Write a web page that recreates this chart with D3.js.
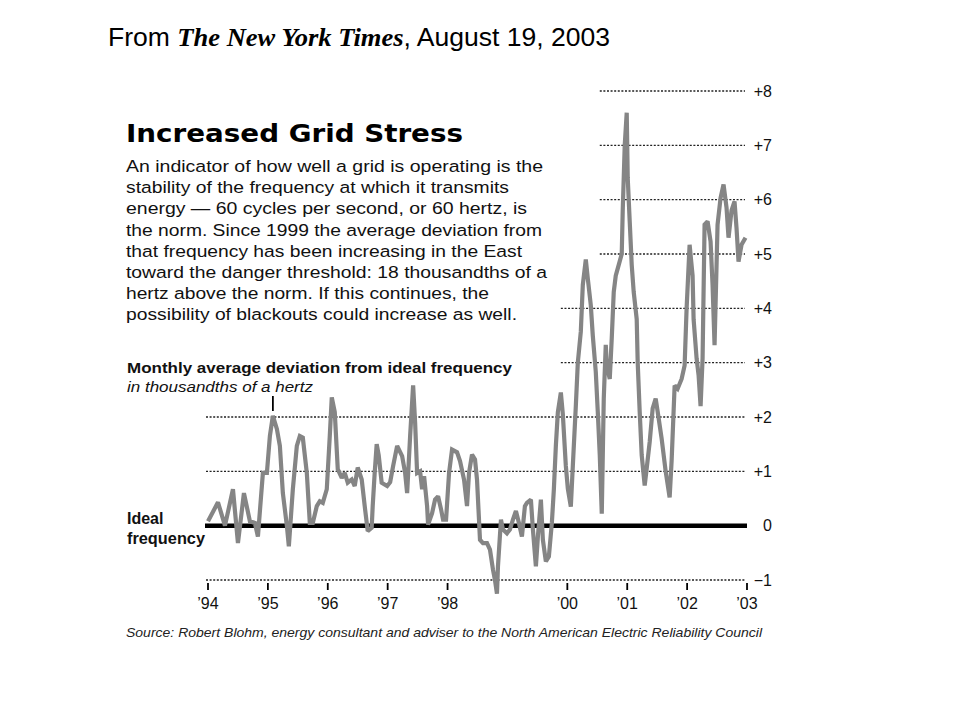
<!DOCTYPE html>
<html lang="en">
<head>
  <meta charset="UTF-8" />
  <title>Increased Grid Stress</title>
  <style>
    body { margin: 0; background: #fff; font-family: "Liberation Sans", Arial, sans-serif; }
  </style>
</head>
<body>
  <div id="chart"></div>

  <script src="https://d3js.org/d3.v7.min.js"></script>

  <script>
    // months since Jan 1994 at the line's turning points
    const monthIdx = [
      0, 2.0, 3.4, 5.0, 6.0, 7.2, 8.4, 9.4, 10.0, 11.0, 11.8,
      12.4, 13.0, 13.8, 14.4, 15.0, 15.8, 16.2, 17.0, 17.8, 18.4, 19.0, 19.8, 20.4, 21.0, 21.8, 22.4, 23.0, 23.8,
      24.4, 24.8, 25.4, 26.0, 26.8, 27.4, 28.0, 28.8, 29.4, 30.0, 30.8, 31.4, 32.0, 32.8, 33.0, 33.4, 33.8, 34.2, 34.8, 35.9,
      36.5, 37.1, 37.9, 38.9, 39.5, 39.9, 40.5, 41.1, 41.5, 41.9, 42.5, 42.9, 43.3, 43.9, 44.1, 44.9, 45.5, 46.1, 46.7, 47.1, 47.7,
      48.3, 48.9, 49.9, 50.5, 51.3, 51.9, 52.3, 52.9, 53.5, 53.9, 54.5, 55.1, 55.9, 56.5, 57.1, 57.5, 57.9, 58.1, 58.7, 59.1, 59.9,
      60.5, 61.1, 61.7, 62.3, 62.9, 63.5, 63.9, 64.7, 65.1, 65.7, 66.1, 66.7, 67.1, 67.7, 68.3, 68.9, 69.3, 69.7, 70.1, 70.7, 71.1, 71.7,
      72.1, 72.7, 73.1, 73.7, 74.1, 74.7, 75.1, 75.7, 76.1, 76.7, 77.1, 77.7, 78.1, 78.5, 78.9, 79.3, 79.7, 79.9, 80.5, 80.9,
      81.3, 81.7, 82.3, 82.9, 83.1, 83.5, 83.9,
      84.1, 84.5, 84.9, 85.3, 85.9, 86.1, 86.5, 86.9, 87.5, 87.9, 88.5, 89.1, 89.7, 90.1, 90.9, 91.7, 92.5, 92.9, 93.5, 94.1, 94.9, 95.5, 95.9,
      96.5, 97.1, 97.3, 97.9, 98.3, 98.7, 99.1, 99.5, 100.1, 100.7, 101.1, 101.5, 102.1, 102.7, 103.3, 103.9, 104.3, 104.9, 105.5, 105.9,
      106.3, 106.9, 107.7
    ];
    // deviation from 60 Hz, thousandths of a hertz
    const deviation = [
      0.08, 0.43, 0.0, 0.67, -0.32, 0.6, 0.08, 0.05, -0.2, 0.97, 0.97,
      1.65, 2.02, 1.78, 1.47, 0.6, 0.0, -0.38, 0.67, 1.47, 1.65, 1.62, 0.97, 0.05, 0.05, 0.36, 0.45, 0.42, 0.67,
      1.65, 2.36, 2.09, 1.04, 0.88, 0.97, 0.79, 0.85, 0.73, 1.07, 0.85, 0.36, -0.1, -0.04, 0.36, 0.97, 1.5, 1.3, 0.79, 0.73,
      0.8, 1.1, 1.47, 1.28, 0.97, 0.6, 1.65, 2.58, 1.9, 0.97, 1.0, 0.67, 0.91, 0.36, 0.02, 0.23, 0.48, 0.54, 0.3, 0.11, 0.11,
      0.97, 1.4, 1.35, 1.19, 0.85, 0.36, 0.97, 1.31, 1.22, 0.85, -0.26, -0.32, -0.32, -0.44, -0.81, -1.0, -1.25, -0.75, 0.11, -0.07, -0.14,
      -0.07, 0.11, 0.27, 0.05, -0.2, 0.36, 0.42, 0.48, -0.07, -0.75, -0.2, 0.48, -0.26, -0.66, -0.57, 0.05, 0.67, 1.47, 2.09, 2.45, 2.05, 1.1,
      0.68, 0.35, 1.1, 2.2, 3.0, 3.57, 4.43, 4.9, 4.55, 4.06, 3.5, 2.83, 2.1, 1.3, 0.22, 2.34, 3.33, 2.96, 2.7, 3.45,
      4.3, 4.6, 4.8, 5.0, 5.8, 7.0, 7.6,
      6.4, 5.6, 4.8, 4.3, 3.8, 3.0, 2.1, 1.3, 0.74, 1.05, 1.54, 2.16, 2.34, 2.1, 1.6, 1.0, 0.52, 1.2, 2.58, 2.52, 2.7, 2.95, 4.0,
      5.17, 4.6, 3.8, 3.08, 2.77, 2.2, 3.08, 5.54, 5.6, 5.23, 4.43, 3.32, 5.54, 6.03, 6.28, 5.85, 5.3, 5.8, 5.97, 5.48,
      4.86, 5.17, 5.3
    ];

    const yTicks = [-1, 0, 1, 2, 3, 4, 5, 6, 7, 8];
    const yTickLabels = ["\u22121", "0", "+1", "+2", "+3", "+4", "+5", "+6", "+7", "+8"];
    const yearTicks = [0, 12, 24, 36, 48, 72, 84, 96, 108];
    const yearLabels = ["\u201994", "\u201995", "\u201996", "\u201997", "\u201998", "\u201900", "\u201901", "\u201902", "\u201903"];

    const bodyLines = [
      "An indicator of how well a grid is operating is the",
      "stability of the frequency at which it transmits",
      "energy \u2014 60 cycles per second, or 60 hertz, is",
      "the norm. Since 1999 the average deviation from",
      "that frequency has been increasing in the East",
      "toward the danger threshold: 18 thousandths of a",
      "hertz above the norm. If this continues, the",
      "possibility of blackouts could increase as well."
    ];
    const bodyWidths = [417, 383, 401, 416, 396, 421, 363, 391];

    const svg = d3.select("#chart")
      .append("svg")
      .attr("width", 960)
      .attr("height", 720);

    const x = d3.scaleLinear().domain([0, 108]).range([208, 747]);
    const y = d3.scaleLinear().domain([-1, 8]).range([580, 91]);

    // header line
    const head = svg.append("text")
      .attr("x", 108)
      .attr("y", 46)
      .attr("font-size", "26px")
      .attr("fill", "#000")
      .attr("textLength", 502)
      .attr("lengthAdjust", "spacingAndGlyphs");
    head.append("tspan").text("From ");
    head.append("tspan")
      .attr("font-family", "'Liberation Serif', 'Times New Roman', serif")
      .attr("font-weight", "bold")
      .attr("font-style", "italic")
      .text("The New York Times");
    head.append("tspan").text(", August 19, 2003");

    svg.append("text")
      .attr("x", 126)
      .attr("y", 142)
      .attr("font-family", "'DejaVu Sans', sans-serif")
      .attr("font-weight", "bold")
      .attr("font-size", "25.5px")
      .attr("textLength", 337)
      .attr("lengthAdjust", "spacingAndGlyphs")
      .text("Increased Grid Stress");

    svg.append("g").selectAll("text")
      .data(bodyLines)
      .enter()
      .append("text")
      .attr("x", 126)
      .attr("y", (d, i) => 172 + i * 21.2)
      .attr("font-size", "17.4px")
      .attr("fill", "#111")
      .attr("textLength", (d, i) => bodyWidths[i])
      .attr("lengthAdjust", "spacingAndGlyphs")
      .text(d => d);

    svg.append("text")
      .attr("x", 127)
      .attr("y", 373)
      .attr("font-size", "15.5px")
      .attr("font-weight", "bold")
      .attr("fill", "#111")
      .attr("textLength", 385)
      .attr("lengthAdjust", "spacingAndGlyphs")
      .text("Monthly average deviation from ideal frequency");

    svg.append("text")
      .attr("x", 127)
      .attr("y", 392)
      .attr("font-size", "15.5px")
      .attr("font-style", "italic")
      .attr("fill", "#111")
      .attr("textLength", 186)
      .attr("lengthAdjust", "spacingAndGlyphs")
      .text("in thousandths of a hertz");

    // gridlines (the upper ones stop short of the text block)
    const grid = svg.append("g");
    grid.selectAll("line")
      .data(yTicks.filter(t => t !== 0))
      .enter()
      .append("line")
      .attr("x1", t => t >= 5 ? x(78.5) : t >= 3 ? x(70.7) : x(0) - 2)
      .attr("x2", x(108) - 2)
      .attr("y1", t => y(t))
      .attr("y2", t => y(t))
      .attr("stroke", "#222")
      .attr("stroke-width", 1.3)
      .attr("stroke-dasharray", "2 1.6");

    // ideal frequency line
    svg.append("line")
      .attr("x1", x(0) - 3)
      .attr("x2", x(108))
      .attr("y1", y(0))
      .attr("y2", y(0))
      .attr("stroke", "#000")
      .attr("stroke-width", 4.5);

    svg.append("text")
      .attr("x", 127)
      .attr("y", 524)
      .attr("font-size", "16px")
      .attr("font-weight", "bold")
      .attr("fill", "#111")
      .text("Ideal");
    svg.append("text")
      .attr("x", 127)
      .attr("y", 544)
      .attr("font-size", "16px")
      .attr("font-weight", "bold")
      .attr("fill", "#111")
      .attr("textLength", 78)
      .attr("lengthAdjust", "spacingAndGlyphs")
      .text("frequency");

    // year ticks
    const xAxis = svg.append("g");
    xAxis.selectAll("line")
      .data(yearTicks)
      .enter()
      .append("line")
      .attr("x1", d => x(d))
      .attr("x2", d => x(d))
      .attr("y1", 583)
      .attr("y2", 590)
      .attr("stroke", "#000")
      .attr("stroke-width", 1.8);
    xAxis.selectAll("text")
      .data(yearTicks)
      .enter()
      .append("text")
      .attr("x", d => x(d))
      .attr("y", 609)
      .attr("text-anchor", "middle")
      .attr("font-size", "16px")
      .attr("fill", "#111")
      .text((d, i) => yearLabels[i]);

    // right-hand value labels
    svg.append("g").selectAll("text")
      .data(yTicks)
      .enter()
      .append("text")
      .attr("x", 772)
      .attr("y", t => y(t) + 5.5)
      .attr("text-anchor", "end")
      .attr("font-size", "16px")
      .attr("fill", "#111")
      .text((t, i) => yTickLabels[i]);

    // small marker over the 1995 peak
    svg.append("line")
      .attr("x1", x(13))
      .attr("x2", x(13))
      .attr("y1", 396)
      .attr("y2", 411)
      .attr("stroke", "#000")
      .attr("stroke-width", 1.8);

    const series = monthIdx.map((m, i) => [m, deviation[i]]);
    svg.append("path")
      .datum(series)
      .attr("fill", "none")
      .attr("stroke", "#858585")
      .attr("stroke-width", 4.2)
      .attr("stroke-linejoin", "miter")
      .attr("stroke-miterlimit", 2)
      .attr("d", d3.line().x(d => x(d[0])).y(d => y(d[1])));

    svg.append("text")
      .attr("x", 126)
      .attr("y", 637)
      .attr("font-size", "12.8px")
      .attr("font-style", "italic")
      .attr("fill", "#222")
      .attr("textLength", 636)
      .attr("lengthAdjust", "spacingAndGlyphs")
      .text("Source: Robert Blohm, energy consultant and adviser to the North American Electric Reliability Council");
  </script>
</body>
</html>
